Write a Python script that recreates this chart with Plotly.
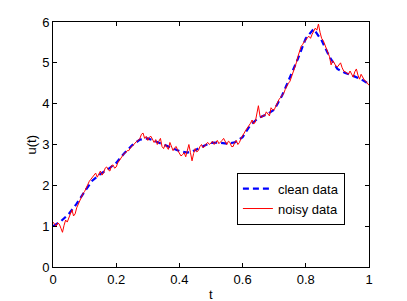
import plotly.graph_objects as go

t_clean = [0.000, 0.025, 0.050, 0.075, 0.100, 0.125, 0.150, 0.175, 0.200, 0.225,
           0.250, 0.275, 0.300, 0.325, 0.350, 0.375, 0.400, 0.425, 0.450, 0.475,
           0.500, 0.525, 0.550, 0.575, 0.600, 0.625, 0.650, 0.675, 0.700, 0.725,
           0.750, 0.775, 0.800, 0.825, 0.850, 0.875, 0.900, 0.925, 0.950, 0.975, 1.000]
u_clean = [1.00, 1.12, 1.30, 1.55, 1.85, 2.12, 2.28, 2.40, 2.55, 2.78,
           2.98, 3.12, 3.15, 3.08, 3.00, 2.92, 2.84, 2.80, 2.86, 2.96,
           3.04, 3.05, 3.02, 3.05, 3.18, 3.48, 3.65, 3.73, 3.85, 4.20,
           4.65, 5.10, 5.60, 5.83, 5.55, 5.15, 4.85, 4.75, 4.68, 4.60, 4.48]

t_noisy = [round(i * 0.005, 3) for i in range(201)]
u_noisy = [1.10, 1.05, 1.00, 1.08, 1.05, 0.95, 0.85, 1.02, 1.15, 1.10,
           1.20, 1.30, 1.40, 1.25, 1.30, 1.45, 1.55, 1.65, 1.70, 1.80,
           1.85, 1.95, 2.00, 2.10, 2.15, 2.20, 2.25, 2.30, 2.20, 2.28,
           2.35, 2.25, 2.30, 2.42, 2.45, 2.38, 2.35, 2.48, 2.50, 2.42,
           2.45, 2.55, 2.60, 2.65, 2.70, 2.78, 2.80, 2.85, 2.85, 2.92,
           2.95, 3.00, 3.05, 3.08, 3.10, 3.15, 3.25, 3.28, 3.15, 3.20,
           3.10, 3.18, 3.20, 3.10, 3.05, 3.12, 3.00, 3.08, 3.15, 2.95,
           2.90, 3.00, 2.95, 2.88, 3.05, 2.95, 2.85, 2.92, 2.95, 2.85,
           2.80, 2.72, 2.75, 2.80, 2.70, 2.85, 3.00, 2.80, 2.60, 2.78,
           2.90, 2.82, 2.85, 2.95, 3.00, 2.92, 2.95, 3.02, 3.05, 3.00,
           3.05, 3.08, 3.00, 3.05, 3.10, 3.02, 3.05, 3.10, 3.15, 3.05,
           3.00, 3.08, 3.05, 2.95, 2.95, 3.05, 3.10, 3.00, 3.05, 3.15,
           3.20, 3.28, 3.35, 3.40, 3.45, 3.52, 3.60, 3.50, 3.55, 3.75,
           3.95, 3.70, 3.65, 3.72, 3.70, 3.80, 3.75, 3.70, 3.90, 3.85,
           3.85, 3.95, 4.00, 4.10, 4.15, 4.20, 4.25, 4.35, 4.45, 4.50,
           4.55, 4.65, 4.75, 4.90, 5.00, 5.15, 5.30, 5.40, 5.45, 5.52,
           5.55, 5.62, 5.65, 5.60, 5.70, 5.78, 5.85, 5.80, 5.95, 5.75,
           5.60, 5.55, 5.45, 5.30, 5.20, 5.15, 4.95, 5.05, 5.00, 4.92,
           4.90, 4.95, 5.00, 4.88, 4.80, 4.78, 4.75, 4.72, 4.80, 4.70,
           4.65, 4.78, 4.85, 4.70, 4.60, 4.72, 4.65, 4.58, 4.55, 4.50,
           4.45]

x_ticks = [0, 0.2, 0.4, 0.6, 0.8, 1]
x_ticklabels = ["0", "0.2", "0.4", "0.6", "0.8", "1"]
y_ticks = [0, 1, 2, 3, 4, 5, 6]

fig = go.Figure()
fig.add_trace(go.Scatter(x=t_clean, y=u_clean, mode="lines", name="clean data",
                         line=dict(color="#0000ff", width=2.2, dash="6px,4px")))
fig.add_trace(go.Scatter(x=t_noisy, y=u_noisy, mode="lines", name="noisy data",
                         line=dict(color="#ff0000", width=1)))

axis_common = dict(showline=True, linecolor="black", linewidth=1, mirror="ticks",
                   ticks="inside", ticklen=4, tickcolor="black", showgrid=False,
                   zeroline=False, automargin=False,
                   tickfont=dict(size=13, color="black"))

# the page body adds an 8px margin, so the figure is 8px smaller and margins shifted
fig.update_layout(
    width=399, height=293,
    margin=dict(l=45, r=38, t=14, b=34),
    paper_bgcolor="white", plot_bgcolor="white",
    font=dict(family="Liberation Sans, Arial, sans-serif", size=13, color="black"),
    xaxis=dict(range=[0, 1], tickvals=x_ticks, ticktext=x_ticklabels, **axis_common),
    yaxis=dict(range=[0, 6], tickvals=y_ticks, **axis_common),
    legend=dict(x=0.582, y=0.385, xanchor="left", yanchor="top",
                bgcolor="white", bordercolor="black", borderwidth=1,
                font=dict(size=13), itemwidth=30, tracegroupgap=0),
    showlegend=True,
    annotations=[
        dict(text="t", xref="paper", yref="paper", x=0.5, y=0, xanchor="center",
             yanchor="top", yshift=-18, showarrow=False, font=dict(size=13)),
        dict(text="u(t)", xref="paper", yref="paper", x=0, y=0.5, xanchor="center",
             yanchor="middle", xshift=-22, textangle=-90, showarrow=False,
             font=dict(size=13)),
    ],
)

fig.write_html("out.html")
